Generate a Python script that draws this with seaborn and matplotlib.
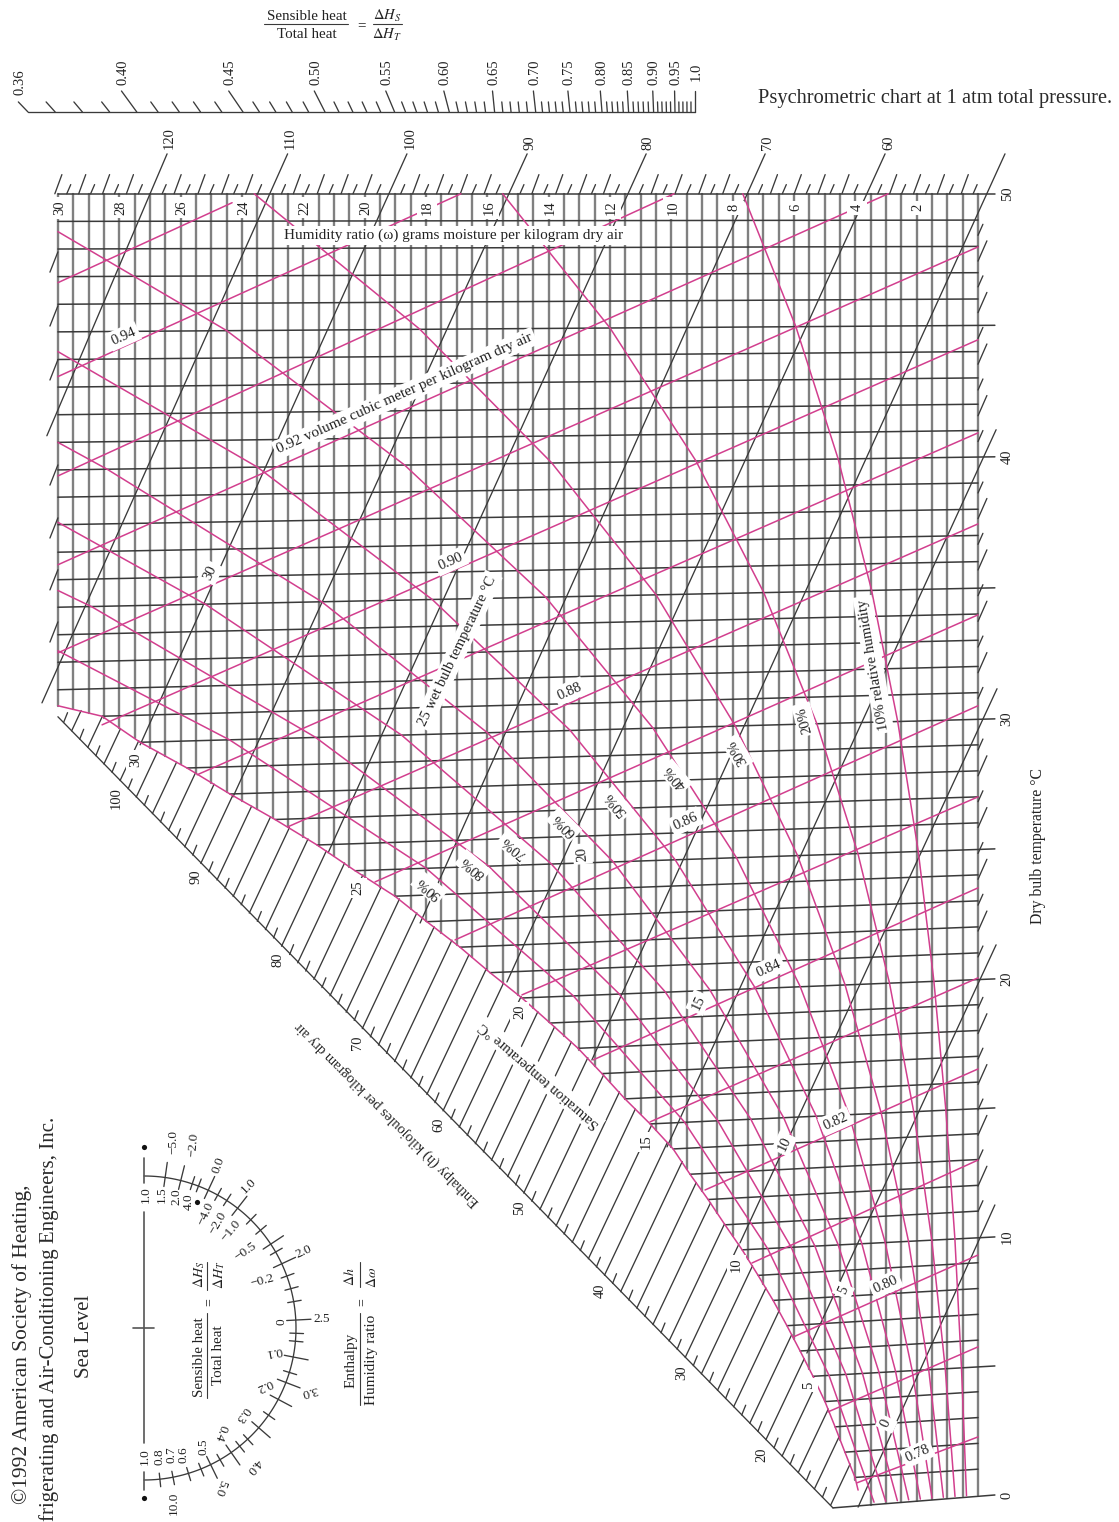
import numpy as np
import pandas as pd
import seaborn as sns
import matplotlib
matplotlib.use('Agg')
import matplotlib.pyplot as plt

sns.set_theme(style='white')
plt.rcParams['font.family'] = ['Liberation Serif', 'DejaVu Sans']
plt.rcParams['mathtext.fontset'] = 'stix'

# Humidity ratio (g/kg) and dry bulb (C) grid
humidity_lines = np.arange(0, 30.5, 0.5)
humidity_labels = np.arange(2, 32, 2)
dry_bulb = np.arange(0, 51)
dry_bulb_labels = [0, 10, 20, 30, 40, 50]

# where each dry bulb line meets the saturation curve (or the w=30 edge)
dry_bulb_end_w = [4.73, 4.01, 4.34, 4.66, 4.99, 5.38, 5.80, 6.23, 6.68, 7.17, 7.69, 8.25, 8.80,
                  9.39, 9.94, 10.69, 11.51, 12.26, 13.04, 13.95, 14.87, 15.91, 16.89, 17.97,
                  19.01, 20.31, 21.55, 22.92, 24.39, 25.79, 27.32, 28.56] + [30.0] * 19
dry_bulb_end_T = [-0.50, 0.68, 1.66, 2.64, 3.62, 4.60, 5.58, 6.56, 7.54, 8.51, 9.50, 10.47, 11.45,
                  12.43, 13.41, 14.38, 15.35, 16.33, 17.31, 18.29, 19.26, 20.24, 21.22, 22.20,
                  23.18, 24.16, 25.15, 26.13, 27.11, 28.11, 29.10, 30.10, 31.11, 32.16, 33.21,
                  34.26, 35.31, 36.36, 37.41, 38.46, 39.50, 40.55, 41.60, 42.65, 43.70, 44.75,
                  45.80, 46.85, 47.90, 48.95, 50.0]

# saturation curve
sat_w = [3.91, 4.01, 4.34, 4.66, 4.99, 5.38, 5.80, 6.23, 6.68, 7.17, 7.69, 8.25, 8.80, 9.39, 9.94,
         10.69, 11.51, 12.26, 13.04, 13.95, 14.87, 15.91, 16.89, 17.97, 19.01, 20.31, 21.55,
         22.92, 24.39, 25.79, 27.32, 28.56, 30.0]
sat_T = [0.19, 0.68, 1.66, 2.64, 3.62, 4.60, 5.58, 6.56, 7.54, 8.51, 9.50, 10.47, 11.45, 12.43,
         13.41, 14.38, 15.35, 16.33, 17.31, 18.29, 19.26, 20.24, 21.22, 22.20, 23.18, 24.16,
         25.15, 26.13, 27.11, 28.11, 29.10, 30.10, 30.50]

# enthalpy lines, kJ/kg: upper end and lower end
enthalpy = [120, 110, 100, 90, 80, 70, 60, 50, 40, 30, 20, 10]
enthalpy_top_w = [26.44, 22.51, 18.62, 14.70, 10.82, 6.94, 3.03, -0.88, -0.59, -0.62, -0.59, -0.55]
enthalpy_top_T = [51.52, 51.52, 51.52, 51.52, 51.52, 51.52, 51.52, 51.52, 41.03, 31.15, 21.31, 11.24]
enthalpy_low_w = [30.36, 30.52, 27.32, 24.29, 21.19, 18.19, 15.36, 12.59, 10.14, 7.76, 5.58, 3.91]
enthalpy_low_T = [40.80, 30.61, 29.00, 27.00, 24.85, 22.15, 19.88, 16.86, 13.49, 9.77, 5.50, -0.47]

# enthalpy calibration along top edge, right edge, and the slanted axis
top_edge_h = [50, 128]
top_edge_w = [-0.23, 30.1]
right_edge_h = [10, 20, 30, 40, 50]
right_edge_T = [10, 19.85, 29.8, 39.6, 49.4]
left_tick_T = [47.79, 45.74, 43.69, 39.69, 37.67, 35.69, 33.70]
slant_axis_h = [11.7, 107.7]
slant_axis_w = [4.73, 30.0]
slant_axis_T = [-0.50, 30.08]

# specific volume lines, m3/kg
volume = [0.78, 0.79, 0.80, 0.81, 0.82, 0.83, 0.84, 0.85, 0.86, 0.87, 0.88, 0.89, 0.90, 0.91, 0.92,
          0.93, 0.94, 0.95]
volume_a_w = [0, 0, 0, 0, 0, 0, 0, 0, 0, 0, 0, 0, 0, 0, 2.93, 9.91, 16.86, 24.32]
volume_a_T = [2.25, 5.74, 9.30, 12.98, 16.51, 20.04, 23.5, 27.0, 30.5, 33.97, 37.44, 40.91, 44.45,
              47.98, 50.0, 50.0, 50.0, 49.66]
volume_b_w = [3.95, 4.89, 6.03, 7.37, 8.90, 10.69, 12.55, 14.87, 17.05, 19.66, 22.5, 25.46, 28.56,
              30, 30, 30, 30, 30]
volume_b_T = [0.47, 3.22, 6.12, 8.99, 11.82, 14.46, 16.86, 19.38, 21.5, 23.73, 25.85, 27.85, 29.77,
              32.52, 35.88, 39.27, 43.05, 46.62]

# relative humidity curves
rh_90_w = [3.39, 4.86, 6.86, 9.57, 13.2, 18.0, 24.4, 30.0]
rh_90_T = [-0.28, 4.64, 9.55, 14.45, 19.35, 24.26, 29.19, 32.6]
rh_80_w = [3.01, 4.31, 6.09, 8.49, 11.7, 15.96, 21.6, 28.9, 30.0]
rh_80_T = [-0.25, 4.68, 9.60, 14.51, 19.42, 24.34, 29.29, 34.28, 34.9]
rh_70_w = [2.63, 3.77, 5.32, 7.41, 10.2, 13.92, 18.8, 25.2, 30.0]
rh_70_T = [-0.22, 4.72, 9.65, 14.57, 19.5, 24.43, 29.38, 34.38, 37.5]
rh_60_w = [2.26, 3.23, 4.56, 6.34, 8.74, 11.9, 16.0, 21.4, 28.4, 30.0]
rh_60_T = [-0.19, 4.76, 9.70, 14.63, 19.57, 24.51, 29.47, 34.47, 39.53, 40.55]
rh_50_w = [1.88, 2.69, 3.79, 5.28, 7.26, 9.88, 13.3, 17.8, 23.5, 30.0]
rh_50_T = [-0.16, 4.80, 9.75, 14.69, 19.64, 24.59, 29.56, 34.56, 39.61, 44.0]
rh_40_w = [1.50, 2.15, 3.03, 4.21, 5.80, 7.88, 10.6, 14.1, 18.7, 24.5, 30.0]
rh_40_T = [-0.12, 4.84, 9.80, 14.76, 19.71, 24.67, 29.65, 34.65, 39.69, 44.8, 48.56]
rh_30_w = [1.13, 1.61, 2.27, 3.16, 4.34, 5.89, 7.92, 10.5, 13.9, 18.2, 23.6]
rh_30_T = [-0.09, 4.88, 9.85, 14.82, 19.79, 24.76, 29.74, 34.74, 39.77, 44.85, 50.0]
rh_20_w = [0.75, 1.07, 1.51, 2.10, 2.89, 3.92, 5.26, 6.99, 9.2, 12.0, 15.5]
rh_20_T = [-0.06, 4.92, 9.90, 14.88, 19.86, 24.84, 29.83, 34.83, 39.85, 44.9, 50.0]
rh_10_w = [0.375, 0.54, 0.755, 1.05, 1.44, 1.95, 2.62, 3.47, 4.56, 5.94, 7.67]
rh_10_T = [-0.03, 4.96, 9.95, 14.94, 19.93, 24.92, 29.91, 34.91, 39.92, 44.95, 50.0]

# sensible heat ratio scale across the top
shr_major = [0.36, 0.40, 0.45, 0.50, 0.55, 0.60, 0.65, 0.70, 0.75, 0.80, 0.85, 0.90, 0.95, 1.0]
shr_spacing = [0, 108.8, 215, 297, 366.6, 421.3, 466.6, 507.7, 542, 574, 600.6, 625.6, 647, 667]
shr_lean = [0.96, 0.73, 0.68, 0.51, 0.42, 0.26, 0.10, 0.11, 0.10, 0.08, 0.06, 0.04, 0.02, 0.0]
shr_text = ['0.36', '0.40', '0.45', '0.50', '0.55', '0.60', '0.65', '0.70', '0.75', '0.80', '0.85',
            '0.90', '0.95', '1.0']

# protractor tick angles, degrees clockwise from the top of the half circle
protractor_major = [8, 14, 25, 38, 56.5, 65, 87, 101, 111, 118, 131, 145, 154]
protractor_minor = [18.5, 21, 29, 33, 44.6, 50, 60, 70, 75, 80, 92, 95, 107, 125, 137, 141, 150,
                    158, 163, 169, 174]

INK = '#3a3a3a'
GRID_V = '#808080'
PINK = '#d23f8e'


def draw(ax, segments, color, lw, zorder=2):
    rows = []
    for i, seg in enumerate(segments):
        for x, y in seg:
            rows.append((i, x, y))
    df = pd.DataFrame(rows, columns=['line', 'x', 'y'])
    sns.lineplot(data=df, x='x', y='y', units='line', estimator=None, sort=False, color=color,
                 linewidth=lw, legend=False, ax=ax, zorder=zorder)


fig = plt.figure(figsize=(11.19, 15.22), dpi=100)
ax = fig.add_axes([0, 0, 1, 1])
ax_px = fig.add_axes([0, 0, 1, 1], zorder=5)
ax_shr = fig.add_axes([28 / 1119, (1522 - 112) / 1522, 667 / 1119, 21 / 1522], zorder=4)

# main chart ------------------------------------------------------------------
sat_low_w = [0, 3.91] + sat_w[1:]
sat_low_T = [0, -0.42] + sat_T[1:]
vertical = [[(w, 50), (w, float(np.interp(w, sat_low_w, sat_low_T)))] for w in humidity_lines]
draw(ax, vertical, GRID_V, 1.7, zorder=1)

horizontal = []
for t, we, te in zip(dry_bulb, dry_bulb_end_w, dry_bulb_end_T):
    start = -0.55 if t % 5 == 0 else 0
    horizontal.append([(start, t), (we, te)])
draw(ax, horizontal, INK, 1.1, zorder=1.5)

black = [[(a, b), (c, d)] for a, b, c, d in zip(enthalpy_top_w, enthalpy_top_T, enthalpy_low_w, enthalpy_low_T)]

# short and long ticks on the top edge
for h in range(51, 129):
    if h % 10 == 0 and h <= 120:
        continue
    w0 = float(np.interp(h, top_edge_h, top_edge_w))
    if h % 2 == 0:
        black.append([(w0, 50), (w0 - 0.23, 50.73)])
    else:
        black.append([(w0, 50), (w0 - 0.13, 50.35)])
# ticks on the right edge
for h in range(11, 50):
    if h % 10 == 0:
        continue
    t0 = float(np.interp(h, right_edge_h, right_edge_T))
    if h % 2 == 0:
        black.append([(0, t0), (-0.29, t0 + 0.77)])
    else:
        black.append([(0, t0), (-0.16, t0 + 0.42)])
# ticks on the left edge
for t0 in left_tick_T:
    black.append([(30, t0), (30.26, t0 - 0.77)])

# lines in the band between the slanted axis and saturation
climb = np.linspace(0, 8, 801)
for h in range(12, 108):
    wa = float(np.interp(h, slant_axis_h, slant_axis_w))
    ta = float(np.interp(h, slant_axis_h, slant_axis_T))
    if h % 2 == 0:
        gap = ta + 2.51 * climb - np.interp(wa - climb, sat_w, sat_T)
        k = int(np.argmax(gap > 0))
        black.append([(wa, ta), (wa - climb[k], ta + 2.51 * climb[k])])
    else:
        black.append([(wa, ta), (wa - 0.13, ta + 0.38)])
black.append([(slant_axis_w[0], slant_axis_T[0]), (slant_axis_w[1], slant_axis_T[1])])
draw(ax, black, INK, 0.95, zorder=1.8)

pink = [list(zip(sat_w, sat_T))]
pink += [[(a, b), (c, d)] for a, b, c, d in zip(volume_a_w, volume_a_T, volume_b_w, volume_b_T)]
for rw, rt in [(rh_90_w, rh_90_T), (rh_80_w, rh_80_T), (rh_70_w, rh_70_T), (rh_60_w, rh_60_T),
               (rh_50_w, rh_50_T), (rh_40_w, rh_40_T), (rh_30_w, rh_30_T), (rh_20_w, rh_20_T),
               (rh_10_w, rh_10_T)]:
    pink.append(list(zip(rw, rt)))
draw(ax, pink, PINK, 1.1, zorder=2)

knots_T = [-5, 0, 10, 20, 30, 40, 50, 65]
knots_pos = [-102, 27, 285, 543, 803, 1065, 1328, 1722]
ax.set_yscale('function', functions=(lambda t: np.interp(t, knots_T, knots_pos),
                                     lambda p: np.interp(p, knots_pos, knots_T)))
ax.set_xlim(31.888, -4.597)
ax.set_ylim(-1.047, 57.376)
ax.axis('off')

white = dict(fc='white', ec='none', pad=2.2)
FS = 10.5
for w in humidity_labels:
    ax.text(w, 49.47, str(w), rotation=90, rotation_mode='anchor', ha='center', va='center_baseline',
            fontsize=FS, color='#222', bbox=dict(fc='white', ec='none', pad=2.5), zorder=3)
for t in dry_bulb_labels:
    ax.text(-0.9, t, str(t), rotation=90, rotation_mode='anchor', ha='center', va='center_baseline',
            fontsize=FS, color='#222')

# sensible heat ratio scale ----------------------------------------------------
shr_all = np.round(np.arange(0.36, 1.001, 0.01), 2)
shr_knots = [0.30] + shr_major + [1.1]
pos_knots = [-80] + shr_spacing + [700]


def shr_forward(s):
    return np.interp(s, shr_knots, pos_knots)


def shr_inverse(p):
    return np.interp(p, pos_knots, shr_knots)


segs = [[(0.36, 0), (1.0, 0)]]
for s in shr_all:
    major = s in shr_major and s != 0.36
    high = 1.0 if major else 0.48
    lean = float(np.interp(s, shr_major, shr_lean))
    tip = float(shr_inverse(shr_forward(s) - lean * high * 21))
    segs.append([(s, 0), (tip, high)])
draw(ax_shr, segs, INK, 0.95)
ax_shr.set_xscale('function', functions=(shr_forward, shr_inverse))
ax_shr.set_xlim(0.36, 1.0)
ax_shr.set_ylim(0, 1)
ax_shr.axis('off')
for s, lean, label in zip(shr_major, shr_lean, shr_text):
    reach = 0.48 if s == 0.36 else 1.0
    tip = float(shr_inverse(shr_forward(s) - lean * reach * 21))
    ax_shr.text(tip, 1.4 if s == 0.36 else 1.9, label, rotation=90, rotation_mode='anchor',
                ha='center', va='center_baseline', fontsize=FS, color='#222')

# protractor --------------------------------------------------------------------
cx, cy, radius = 144, 1328, 152


def polar(angle, r):
    th = np.radians(angle)
    return (cx + radius * r * np.sin(th), cy - radius * r * np.cos(th))


arc = [[polar(a, 1.0) for a in np.linspace(0, 180, 121)]]
p_ticks = [[polar(a, 0.94), polar(a, 1.1)] for a in protractor_major]
p_ticks += [[polar(a, 0.96), polar(a, 1.05)] for a in protractor_minor]
p_stem = [[(cx, 1212), (cx, 1443)], [(cx - 11, cy), (cx + 10, cy)], [(cx, 1158), (cx, 1183)],
          [(cx, 1472), (cx, 1490)]]
draw(ax_px, arc + p_ticks, INK, 0.95)
draw(ax_px, p_stem, '#555555', 1.2)
sns.scatterplot(x=[cx, cx, 197], y=[1147, 1498, 1202], color='#111111', s=14, linewidth=0, ax=ax_px,
                legend=False)

# formula bars
bars = [[(264, 23.5), (348, 23.5)], [(373, 23.5), (402, 23.5)], [(207, 1313), (207, 1398)],
        [(207, 1262), (207, 1290)], [(360, 1313), (360, 1405)], [(360, 1262), (360, 1287)]]
draw(ax_px, bars, INK, 0.8)


def put(x, y, s, rot=90, size=FS, box=False, color='#222'):
    ax_px.text(x, y, s, rotation=rot, rotation_mode='anchor', ha='center', va='center_baseline',
               fontsize=size, color=color, bbox=white if box else None)


# top formula and title
put(307, 15, 'Sensible heat', 0, 10.8)
put(307, 33, 'Total heat', 0, 10.8)
put(361, 24, '=', 0, 10.8)
put(387, 14, r'$\Delta H_S$', 0, 10.5)
put(387, 33, r'$\Delta H_T$', 0, 10.5)
put(935, 96, 'Psychrometric chart at 1 atm total pressure.', 0, 14.7, color='#2a2a2a')

# enthalpy numbers
for label, x, y in zip([120, 110, 100, 90, 80, 70, 60], [168, 289, 409, 528, 646, 766, 887],
                       [138, 138, 138, 143, 143, 143, 143]):
    put(x, y, str(label))
for label, x, y in zip([100, 90, 80, 70, 60, 50, 40, 30, 20],
                       [115, 195, 276, 356, 437, 518, 599, 680, 760],
                       [798, 877, 960, 1043, 1125, 1208, 1291, 1373, 1455]):
    put(x, y, str(label))
# saturation temperatures
for label, x, y in zip([30, 25, 20, 15, 10, 5], [134, 356, 518, 645, 735, 807],
                       [760, 888, 1012, 1142, 1265, 1385]):
    put(x, y, str(label), box=True)
# wet bulb numbers on the lines
for label, x, y, rot in zip([30, 20, 15, 10, 5, 0], [209, 581, 697, 783, 842, 885],
                            [572, 854, 1002, 1143, 1290, 1423], [65, 95, 65, 65, 65, 65]):
    put(x, y, str(label), rot, box=True)
# specific volume numbers
for label, x, y in zip(['0.94', '0.90', '0.88', '0.86', '0.84', '0.82', '0.80', '0.78'],
                       [123, 450, 569, 685, 768, 835, 885, 917],
                       [335, 560, 690, 820, 967, 1120, 1283, 1452]):
    put(x, y, label, 24, box=True)
# relative humidity numbers
for label, x, y, rot in zip(['90%', '80%', '70%', '60%', '50%', '40%', '30%', '20%'],
                            [428, 472, 513, 563, 615, 674, 736, 803],
                            [889, 868, 848, 826, 805, 778, 753, 720],
                            [140, 140, 140, 135, 130, 130, 120, 105]):
    put(x, y, label, rot, box=True)

put(454, 234, 'Humidity ratio (\u03c9) grams moisture per kilogram dry air', 0, 11, box=True)
put(404, 392, '0.92 volume cubic meter per kilogram dry air', 24, 11, box=True)
put(456, 650, '25 wet bulb temperature \u00b0C', 64.5, 10.6, box=True)
put(872, 665, '10% relative humidity', 99.5, 10.6, box=True)
put(538, 1076, 'Saturation temperature \u00b0C', 139, 10.6, box=True)
put(386, 1115, 'Enthalpy (h) kilojoules per kilogram dry air', 135, 10.5)
put(1036, 846, 'Dry bulb temperature \u00b0C', 90, 11.3)

# left block
put(20, 1344, '\u00a91992 American Society of Heating,', 90, 15.4, color='#2a2a2a')
put(47, 1319, 'frigerating and Air-Conditioning Engineers, Inc.', 90, 15, color='#2a2a2a')
put(82, 1336, 'Sea Level', 90, 15, color='#2a2a2a')

put(198, 1357, 'Sensible heat', 90, 10.8)
put(217, 1355, 'Total heat', 90, 10.8)
put(207, 1302, '=', 90, 10)
put(197, 1275, r'$\Delta H_S$', 90, 10)
put(217, 1275, r'$\Delta H_T$', 90, 10)
put(350, 1360, 'Enthalpy', 90, 11)
put(370, 1360, 'Humidity ratio', 90, 11)
put(360, 1302, '=', 90, 10)
put(348, 1277, r'$\Delta h$', 90, 10)
put(370, 1277, r'$\Delta \omega$', 90, 10)

outer = ['\u22125.0', '\u22122.0', '0.0', '1.0', '2.0', '2.5', '3.0', '4.0', '5.0', '10.0']
outer_x = [172, 192, 217, 248, 303, 322, 310, 255, 222, 172]
outer_y = [1142, 1145, 1165, 1185, 1250, 1318, 1392, 1467, 1488, 1503]
outer_rot = [90, 85, 70, 45, 25, 0, 195, 230, 250, 90]
for s, x, y, r in zip(outer, outer_x, outer_y, outer_rot):
    put(x, y, s, r, 9.5)
inner = ['1.0', '1.5', '2.0', '4.0', '\u22124.0', '\u22122.0', '\u22121.0', '\u22120.5', '\u22120.2',
         '0', '0.1', '0.2', '0.3', '0.4', '0.5', '0.6', '0.7', '0.8', '1.0']
inner_x = [144, 160, 175, 187, 204, 217, 230, 245, 262, 280, 274, 265, 243, 222, 202, 182, 170, 158, 143]
inner_y = [1195, 1195, 1197, 1202, 1213, 1222, 1230, 1250, 1280, 1322, 1353, 1387, 1415, 1433, 1447,
           1455, 1455, 1457, 1457]
inner_rot = [90, 90, 90, 90, 65, 60, 50, 35, 15, 90, 190, 205, 235, 250, 90, 90, 90, 90, 90]
for s, x, y, r in zip(inner, inner_x, inner_y, inner_rot):
    put(x, y, s, r, 9.5)

ax_px.set_xlim(0, 1119)
ax_px.set_ylim(1522, 0)
ax_px.axis('off')

for a in (ax, ax_shr):
    for line in a.lines:
        line.set_clip_on(False)

fig.savefig('out.png', dpi=100, facecolor='white')
